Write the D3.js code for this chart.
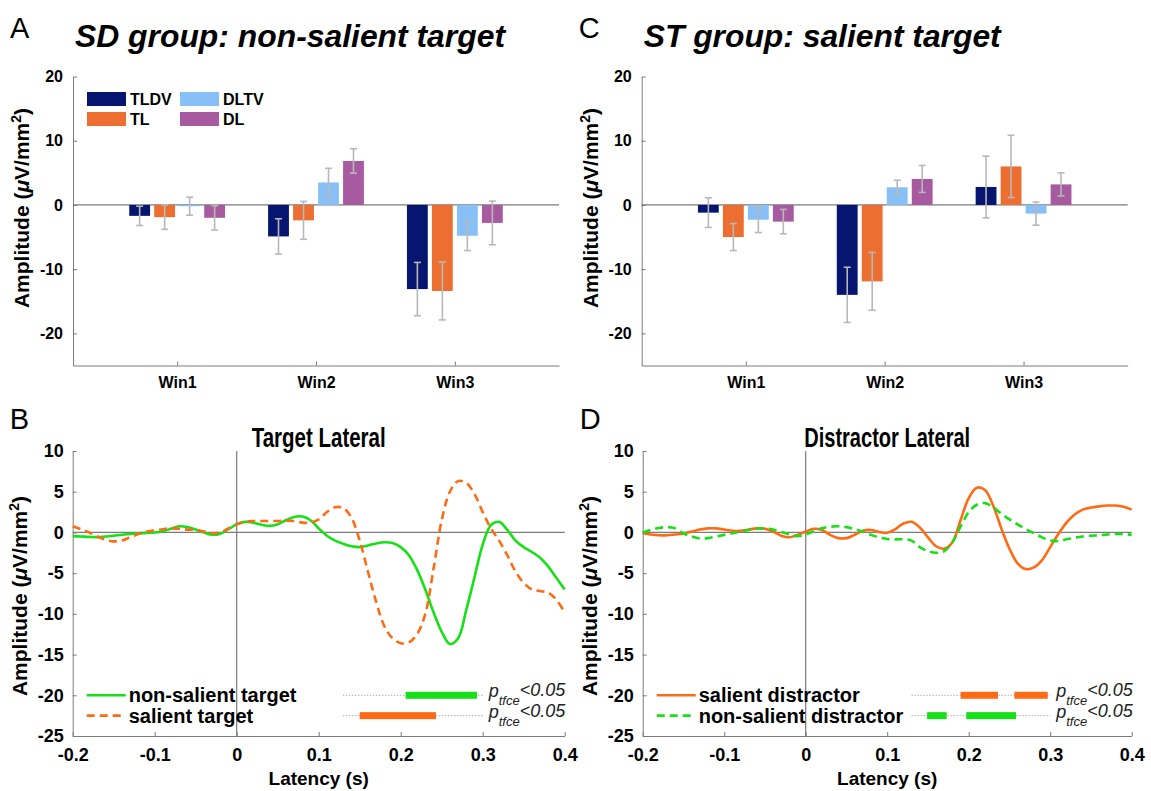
<!DOCTYPE html>
<html>
<head>
<meta charset="utf-8">
<script src="https://cdn.jsdelivr.net/npm/d3@7"></script>
<style>
  body { margin: 0; background: #fff; }
  text { font-family: "Liberation Sans", Arial, Helvetica, sans-serif; }
</style>
</head>
<body>
<svg width="1151" height="791"></svg>
<script>
// ---- bar panels (A, C) ----
const windows = ["Win1", "Win2", "Win3"];
const conditions = ["TLDV", "TL", "DLTV", "DL"];
const condColors = ["#06156f", "#ec6f31", "#87c0f6", "#a85aa0"];
const barTicks = [-20, -10, 0, 10, 20];

// rows follow `conditions`, columns follow `windows`
const sdMeans = [
  [-1.7, -4.9, -13.1],
  [-1.9, -2.4, -13.4],
  [-0.2, 3.5, -4.8],
  [-2.0, 6.85, -2.8]
];
const sdErrors = [
  [1.5, 2.75, 4.15],
  [1.9, 2.95, 4.5],
  [1.4, 2.2, 2.3],
  [1.9, 1.9, 3.4]
];
const stMeans = [
  [-1.2, -14.0, 2.8],
  [-5.0, -11.9, 6.0],
  [-2.3, 2.75, -1.35],
  [-2.6, 4.05, 3.2]
];
const stErrors = [
  [2.3, 4.3, 4.8],
  [2.1, 4.5, 4.85],
  [2.0, 1.1, 1.8],
  [1.9, 2.1, 1.8]
];

// ---- waveform panels (B, D) ----
const latency = [-0.2, -0.19, -0.18, -0.17, -0.16, -0.15, -0.14, -0.13, -0.12, -0.11,
  -0.1, -0.09, -0.08, -0.07, -0.06, -0.05, -0.04, -0.03, -0.02, -0.01,
  0, 0.01, 0.02, 0.03, 0.04, 0.05, 0.06, 0.07, 0.08, 0.09,
  0.1, 0.11, 0.12, 0.13, 0.14, 0.15, 0.16, 0.17, 0.18, 0.19,
  0.2, 0.21, 0.22, 0.23, 0.24, 0.25, 0.26, 0.27, 0.28, 0.29,
  0.3, 0.31, 0.32, 0.33, 0.34, 0.35, 0.36, 0.37, 0.38, 0.39, 0.4];
const latencyTicks = [-0.2, -0.1, 0, 0.1, 0.2, 0.3, 0.4];
const amplitudeTicks = [-25, -20, -15, -10, -5, 0, 5, 10];

const nonSalientTarget = [-0.45, -0.5, -0.55, -0.58, -0.5, -0.4, -0.28, -0.2, -0.12, -0.05,
  0.0, 0.15, 0.45, 0.75, 0.65, 0.35, 0.0, -0.28, -0.15, 0.4,
  1.0, 1.3, 1.2, 0.95, 0.8, 1.0, 1.5, 1.9, 1.95, 1.5,
  0.5, -0.4, -1.0, -1.4, -1.7, -1.8, -1.6, -1.35, -1.2, -1.3,
  -1.8, -2.8, -4.6, -7.0, -9.8, -12.2, -13.7, -13.0, -9.5, -5.5,
  -1.5, 0.9, 1.3, 0.3, -1.0, -1.8, -2.4, -3.1, -4.2, -5.6, -7.0];
const salientTarget = [0.75, 0.4, 0.0, -0.5, -0.9, -1.1, -1.0, -0.6, -0.2, 0.1,
  0.25, 0.4, 0.5, 0.45, 0.35, 0.3, 0.1, -0.1, 0.0, 0.5,
  1.0, 1.3, 1.4, 1.4, 1.4, 1.4, 1.45, 1.4, 1.2, 1.2,
  1.6, 2.5, 3.1, 3.0, 1.8, -1.0, -4.8, -8.5, -11.5, -13.0,
  -13.6, -13.5, -12.5, -10.0, -4.5, 1.5, 5.0, 6.3, 6.1, 4.7,
  2.5, 0.5, -1.0, -2.8, -4.8, -6.2, -7.0, -7.2, -7.4, -8.3, -9.8];
const salientDistractor = [-0.1, -0.25, -0.35, -0.35, -0.25, -0.15, 0.1, 0.35, 0.5, 0.5,
  0.35, 0.2, 0.2, 0.35, 0.5, 0.45, 0.1, -0.4, -0.6, -0.3,
  0.1, 0.45, 0.3, -0.3, -0.7, -0.7, -0.3, 0.2, 0.3, 0.05,
  -0.05, 0.4, 1.1, 1.3, 0.6, -0.6, -1.7, -2.0, -1.2, 1.5,
  4.2, 5.5, 5.2, 3.3, 0.5, -2.0, -3.8, -4.5, -4.3, -3.4,
  -1.8, -0.2, 1.2, 2.2, 2.8, 3.05, 3.2, 3.3, 3.3, 3.15, 2.8];
const nonSalientDistractor = [0.0, 0.3, 0.55, 0.65, 0.5, -0.1, -0.5, -0.75, -0.7, -0.5,
  -0.3, -0.1, 0.1, 0.3, 0.45, 0.5, 0.35, 0.05, -0.25, -0.45,
  -0.25, 0.15, 0.5, 0.7, 0.75, 0.65, 0.4, 0.1, -0.3, -0.6,
  -0.8, -0.85, -0.85, -1.0, -1.8, -2.3, -2.5, -2.3, -1.2, 0.7,
  2.5, 3.4, 3.6, 3.1, 2.3, 1.6, 1.0, 0.4, -0.1, -0.6,
  -1.0, -1.05, -0.85, -0.65, -0.5, -0.4, -0.35, -0.25, -0.2, -0.2, -0.3];

// significant clusters (start, end in seconds) and the tested window
const sigNonSalientTarget = [[0.206, 0.293]];
const sigSalientTarget = [[0.150, 0.243]];
const sigSalientDistractor = [[0.190, 0.236], [0.256, 0.297]];
const sigNonSalientDistractor = [[0.149, 0.173], [0.197, 0.258]];
const testWindow = [0.13, 0.30];

const GREEN = "#16e016", ORANGE = "#ff6a14", AXIS = "#7b7b7b", ERR = "#b8b8b8";

const svg = d3.select("svg");

function styleAxis(g, size) {
  g.select(".domain").attr("stroke", AXIS);
  g.selectAll(".tick line").attr("stroke", AXIS);
  g.selectAll(".tick text")
    .attr("fill", "#000")
    .style("font-size", size + "px")
    .style("font-weight", "bold")
    .style("font-family", "'Liberation Sans', Arial, sans-serif");
}

function amplitudeLabel(cx, cy) {
  const t = svg.append("text")
    .attr("transform", `translate(${cx},${cy}) rotate(-90)`)
    .attr("text-anchor", "middle")
    .style("font-size", "21px").style("font-weight", "bold");
  t.append("tspan").text("Amplitude (");
  t.append("tspan").style("font-style", "italic").text("\u03bc");
  t.append("tspan").text("V/mm");
  t.append("tspan").attr("dy", -8).style("font-size", "14px").text("2");
  t.append("tspan").attr("dy", 8).text(")");
}

function panelLetter(x, y, s) {
  svg.append("text").attr("x", x).attr("y", y)
    .style("font-size", "29px").text(s);
}

function barPanel(ox, means, errors, title, titleLen, letter, legend) {
  const x = d3.scaleLinear().domain([0.25, 3.75]).range([ox, ox + 486]);
  const y = d3.scaleLinear().domain([-25, 20]).range([365.5, 76.5]);
  const offsets = [-0.27, -0.09, 0.09, 0.27], bw = 0.15;

  panelLetter(ox - 63, 38, letter);
  svg.append("text").attr("x", ox + 2).attr("y", 47)
    .attr("textLength", titleLen).attr("lengthAdjust", "spacingAndGlyphs")
    .style("font-size", "32px").style("font-weight", "bold").style("font-style", "italic")
    .text(title);

  const g = svg.append("g");
  g.append("g").attr("transform", `translate(${ox},0)`)
    .call(d3.axisLeft(y).tickValues(barTicks).tickFormat(d => String(d))
      .tickSizeInner(-4).tickSizeOuter(0).tickPadding(10))
    .call(a => styleAxis(a, 16));
  g.append("g").attr("transform", `translate(0,${y(-25)})`)
    .call(d3.axisBottom(x).tickValues([1, 2, 3]).tickFormat((d, i) => windows[i])
      .tickSizeInner(-4).tickSizeOuter(0).tickPadding(11))
    .call(a => styleAxis(a, 16));

  // zero line
  g.append("line").attr("x1", x(0.25)).attr("x2", x(3.75))
    .attr("y1", y(0)).attr("y2", y(0)).attr("stroke", AXIS).attr("stroke-width", 1.2);

  conditions.forEach((c, ci) => {
    const rows = windows.map((w, wi) => ({ pos: wi + 1 + offsets[ci], m: means[ci][wi], e: errors[ci][wi] }));
    g.append("g").selectAll("rect").data(rows).join("rect")
      .attr("x", d => x(d.pos - bw / 2))
      .attr("width", x(bw) - x(0))
      .attr("y", d => Math.min(y(d.m), y(0)))
      .attr("height", d => Math.abs(y(d.m) - y(0)))
      .attr("fill", condColors[ci]);
    const eb = g.append("g").attr("stroke", ERR).attr("stroke-width", 1.6);
    eb.selectAll(".v").data(rows).join("line")
      .attr("x1", d => x(d.pos)).attr("x2", d => x(d.pos))
      .attr("y1", d => y(d.m - d.e)).attr("y2", d => y(d.m + d.e));
    eb.selectAll(".cap").data(rows.flatMap(d => [d.m - d.e, d.m + d.e].map(v => ({ pos: d.pos, v }))))
      .join("line")
      .attr("x1", d => x(d.pos) - 3.5).attr("x2", d => x(d.pos) + 3.5)
      .attr("y1", d => y(d.v)).attr("y2", d => y(d.v));
  });

  amplitudeLabel(ox - 44, 208);

  if (legend) {
    const lg = svg.append("g");
    conditions.forEach((c, ci) => {
      const lx = ox + 14 + (ci < 2 ? 0 : 93);
      const ly = 92 + (ci % 2) * 20;
      lg.append("rect").attr("x", lx).attr("y", ly).attr("width", 39).attr("height", 14)
        .attr("fill", condColors[ci]);
      lg.append("text").attr("x", lx + 43).attr("y", ly + 13)
        .style("font-size", "16px").style("font-weight", "bold").text(c);
    });
  }
}

function linePanel(ox, width, title, titleLen, letter, series) {
  const x = d3.scaleLinear().domain([-0.2, 0.4]).range([ox, ox + width]);
  const y = d3.scaleLinear().domain([-25, 10]).range([736, 451]);

  panelLetter(ox - 63, 429, letter);
  svg.append("text").attr("x", ox + width / 2).attr("y", 447).attr("text-anchor", "middle")
    .attr("textLength", titleLen).attr("lengthAdjust", "spacingAndGlyphs")
    .style("font-size", "27px").style("font-weight", "bold").text(title);

  const g = svg.append("g");
  g.append("g").attr("transform", `translate(${ox},0)`)
    .call(d3.axisLeft(y).tickValues(amplitudeTicks).tickFormat(d => String(d))
      .tickSizeInner(-4).tickSizeOuter(0).tickPadding(9))
    .call(a => styleAxis(a, 18));
  g.append("g").attr("transform", `translate(0,${y(-25)})`)
    .call(d3.axisBottom(x).tickValues(latencyTicks).tickFormat(d => String(d))
      .tickSizeInner(-4).tickSizeOuter(0).tickPadding(12))
    .call(a => styleAxis(a, 18));

  g.append("line").attr("x1", x(-0.2)).attr("x2", x(0.4)).attr("y1", y(0)).attr("y2", y(0))
    .attr("stroke", AXIS).attr("stroke-width", 1.2);
  g.append("line").attr("x1", x(0)).attr("x2", x(0)).attr("y1", y(-25)).attr("y2", y(10))
    .attr("stroke", AXIS).attr("stroke-width", 1.2);

  const line = d3.line().x(d => x(d[0])).y(d => y(d[1])).curve(d3.curveCatmullRom.alpha(0.5));

  series.forEach((s, si) => {
    g.append("path").datum(latency.map((t, i) => [t, s.values[i]]))
      .attr("d", line).attr("fill", "none")
      .attr("stroke", s.color).attr("stroke-width", 2.6)
      .attr("stroke-dasharray", s.dashed ? "8,5" : null);

    // legend row
    const ry = y(-20 - 2.5 * si);
    g.append("line").attr("x1", ox + 14).attr("x2", ox + 53).attr("y1", ry).attr("y2", ry)
      .attr("stroke", s.color).attr("stroke-width", 2.6)
      .attr("stroke-dasharray", s.dashed ? "8,5" : null);
    g.append("text").attr("x", ox + 56).attr("y", ry + 7)
      .style("font-size", "20px").style("font-weight", "bold").text(s.label);

    // significance row
    g.append("line").attr("x1", x(testWindow[0])).attr("x2", x(testWindow[1]))
      .attr("y1", ry).attr("y2", ry)
      .attr("stroke", "#8a8a8a").attr("stroke-width", 1).attr("stroke-dasharray", "1,2");
    g.append("g").selectAll("rect").data(s.sig).join("rect")
      .attr("x", d => x(d[0])).attr("width", d => x(d[1]) - x(d[0]))
      .attr("y", ry - 3.5).attr("height", 7).attr("fill", s.color);
    const pt = g.append("text").attr("x", x(testWindow[1]) + 6).attr("y", ry + 2)
      .style("font-style", "italic").style("font-size", "18px").attr("fill", "#222");
    pt.append("tspan").text("p");
    pt.append("tspan").attr("dy", 8).style("font-size", "13px").text("tfce");
    pt.append("tspan").attr("dy", -9).text("<0.05");
  });

  svg.append("text").attr("x", ox + width / 2).attr("y", 785).attr("text-anchor", "middle")
    .style("font-size", "19px").style("font-weight", "bold").text("Latency (s)");
  amplitudeLabel(ox - 46, 596);
}

barPanel(73, sdMeans, sdErrors, "SD group: non-salient target", 430, "A", true);
barPanel(641.7, stMeans, stErrors, "ST group: salient target", 357, "C", false);

linePanel(72.7, 492, "Target Lateral", 134, "B", [
  { label: "non-salient target", values: nonSalientTarget, color: GREEN, dashed: false, sig: sigNonSalientTarget },
  { label: "salient target", values: salientTarget, color: ORANGE, dashed: true, sig: sigSalientTarget }
]);
linePanel(642.7, 489, "Distractor Lateral", "166", "D", [
  { label: "salient distractor", values: salientDistractor, color: ORANGE, dashed: false, sig: sigSalientDistractor },
  { label: "non-salient distractor", values: nonSalientDistractor, color: GREEN, dashed: true, sig: sigNonSalientDistractor }
]);
</script>
</body>
</html>
